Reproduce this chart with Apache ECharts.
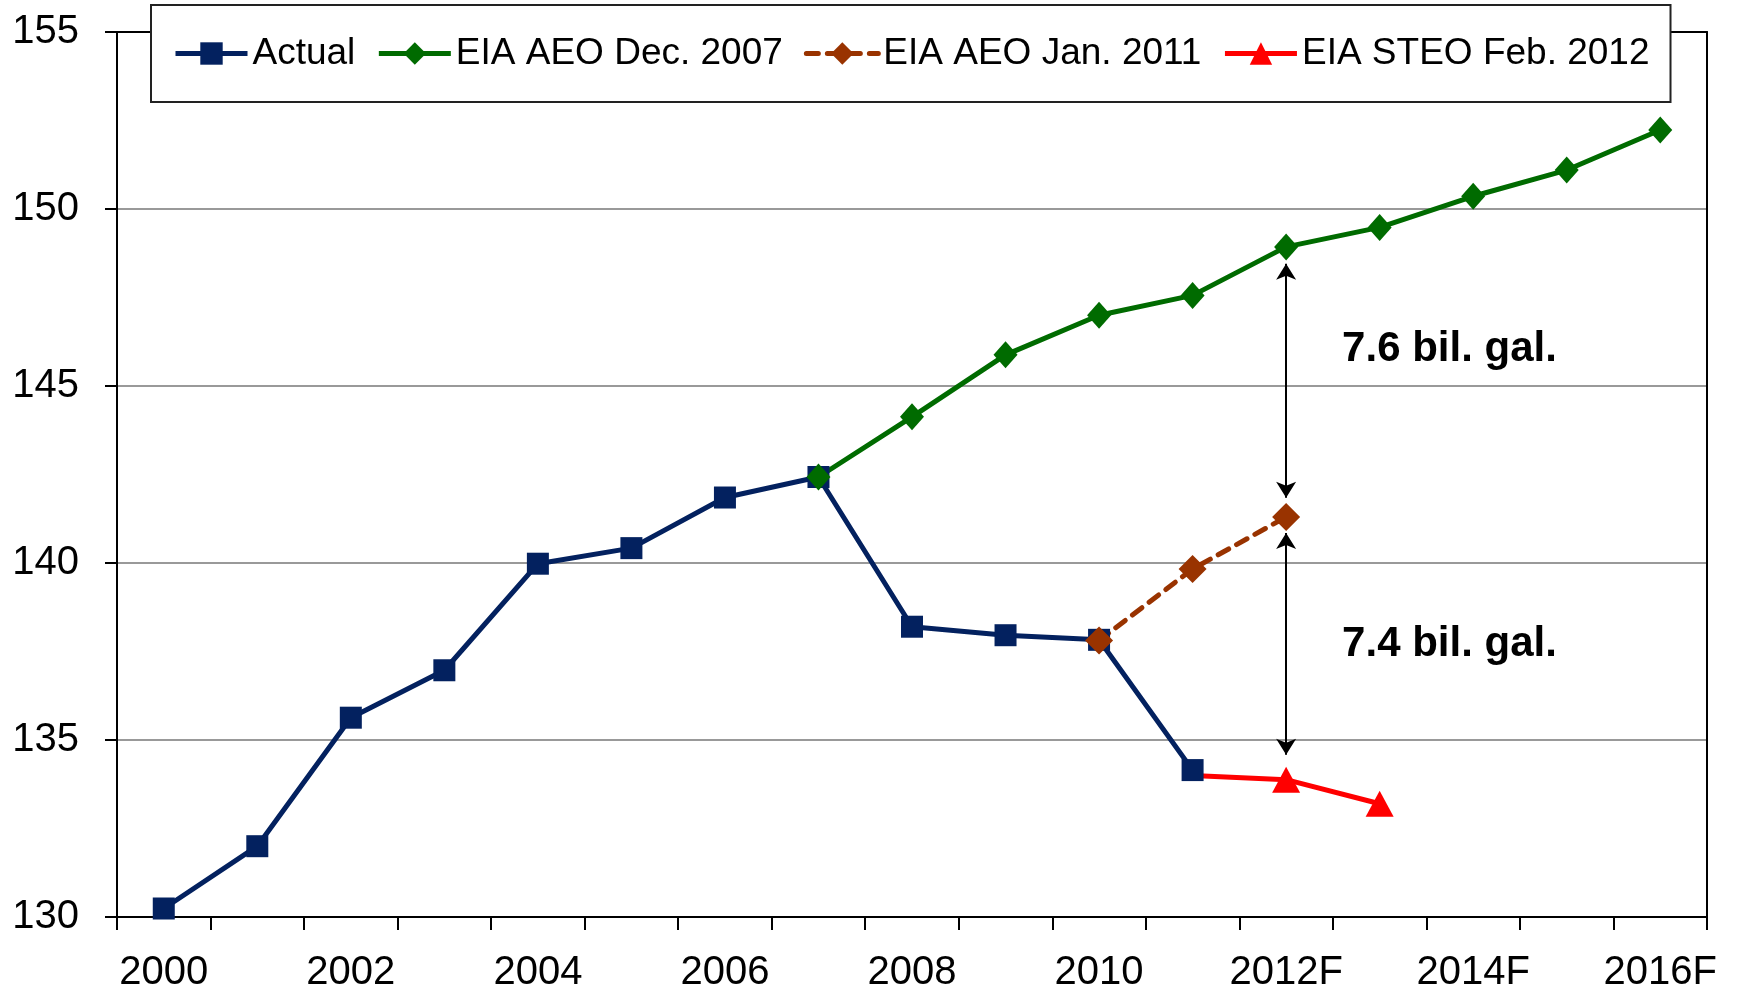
<!DOCTYPE html>
<html>
<head>
<meta charset="utf-8">
<script src="https://cdn.jsdelivr.net/npm/echarts@6/dist/echarts.min.js"></script>
<style>
html,body{margin:0;padding:0;background:#fff;}
#chart{width:1737px;height:986px;}
</style>
</head>
<body>
<div id="chart"></div>
<script>
const categories = ['2000','2001','2002','2003','2004','2005','2006','2007','2008','2009','2010','2011','2012F','2013F','2014F','2015F','2016F'];
const actual   = [130.24,132.0,135.63,136.97,139.98,140.42,141.85,142.43,138.2,137.96,137.83,134.15,null,null,null,null,null];
const aeo2007  = [null,null,null,null,null,null,null,142.43,144.13,145.88,147.0,147.56,148.93,149.48,150.36,151.1,152.23];
const aeo2011  = [null,null,null,null,null,null,null,null,null,null,137.81,139.83,141.3,null,null,null,null];
const steo2012 = [null,null,null,null,null,null,null,null,null,null,null,134.0,133.88,133.2,null,null,null];
const seriesNames = ['Actual','EIA AEO Dec. 2007','EIA AEO Jan. 2011','EIA STEO Feb. 2012'];
const yTicks = [130,135,140,145,150,155];
const gapCategory = '2012F';
const gapArrows = [[148.45,141.84],[140.85,134.58]];
const gapLabels = ['7.6 bil. gal.','7.4 bil. gal.'];
const gapLabelValues = [146.02,137.7];

const FONT = "'Liberation Sans', Arial, Helvetica, sans-serif";
const chart = echarts.init(document.getElementById('chart'));

const steoData = steo2012.map((v,i) => (i === 11 ? {value:v, symbol:'none'} : v));

chart.setOption({
  animation:false,
  backgroundColor:'#fff',
  textStyle:{fontFamily:FONT},
  grid:{left:117,right:30,top:32,bottom:69,containLabel:false,outerBoundsMode:'none'},
  legend:{
    data:seriesNames,
    left:151, top:5,
    padding:[30,21,30,22],
    itemWidth:72, itemHeight:28, itemGap:21,
    backgroundColor:'#fff', borderColor:'#222', borderWidth:2, borderRadius:0,
    lineStyle:{width:5},
    textStyle:{fontSize:37,color:'#000',fontFamily:FONT},
    z:10
  },
  xAxis:[{
    type:'category', data:categories, boundaryGap:true,
    axisLine:{show:true,onZero:false,lineStyle:{color:'#000',width:2}},
    axisTick:{show:true,interval:0,length:13,lineStyle:{color:'#000',width:2}},
    axisLabel:{interval:1,margin:36,fontSize:40,color:'#000',fontFamily:FONT},
    splitLine:{show:false}
  },{
    type:'category', data:categories, position:'top', boundaryGap:true,
    axisLine:{show:true,onZero:false,lineStyle:{color:'#000',width:2}},
    axisTick:{show:false}, axisLabel:{show:false}, splitLine:{show:false}
  }],
  yAxis:[{
    type:'value', min:yTicks[0], max:yTicks[yTicks.length-1], interval:5,
    axisLine:{show:true,onZero:false,lineStyle:{color:'#000',width:2}},
    axisTick:{show:true,length:12,lineStyle:{color:'#000',width:2}},
    axisLabel:{margin:38,fontSize:40,color:'#000',fontFamily:FONT},
    splitLine:{show:true,lineStyle:{color:'#999',width:2}}
  },{
    type:'value', min:yTicks[0], max:yTicks[yTicks.length-1], interval:5, position:'right',
    axisLine:{show:true,onZero:false,lineStyle:{color:'#000',width:2}},
    axisTick:{show:false}, axisLabel:{show:false}, splitLine:{show:false}
  }],
  series:[
    {
      name:seriesNames[0], type:'line', data:actual,
      symbol:'rect', symbolSize:22,
      lineStyle:{color:'#03215f',width:5},
      itemStyle:{color:'#03215f'}
    },
    {
      name:seriesNames[1], type:'line', data:aeo2007,
      symbol:'diamond', symbolSize:[24,27],
      lineStyle:{color:'#006b00',width:5},
      itemStyle:{color:'#006b00'}
    },
    {
      name:seriesNames[2], type:'line', data:aeo2011,
      symbol:'diamond', symbolSize:[28,28],
      lineStyle:{color:'#993300',width:5,type:[12,9],cap:'round'},
      itemStyle:{color:'#993300'},
      markLine:{
        silent:true,
        symbol:['arrow','arrow'], symbolSize:[15,16],
        label:{show:false},
        lineStyle:{color:'#000',width:2,type:'solid'},
        data:gapArrows.map(a => [{coord:[gapCategory,a[0]]},{coord:[gapCategory,a[1]]}])
      },
      markPoint:{
        silent:true,
        symbol:'circle', symbolSize:0,
        data:gapLabels.map((t,i) => ({
          coord:[gapCategory,gapLabelValues[i]],
          label:{show:true,formatter:t,position:'inside',align:'left',verticalAlign:'middle',offset:[56,0],
                 fontSize:42,fontWeight:'bold',color:'#000',fontFamily:FONT}
        }))
      }
    },
    {
      name:seriesNames[3], type:'line', data:steoData,
      symbol:'triangle', symbolSize:[28,26],
      lineStyle:{color:'#ff0000',width:5},
      itemStyle:{color:'#ff0000'}
    }
  ]
});
</script>
</body>
</html>
